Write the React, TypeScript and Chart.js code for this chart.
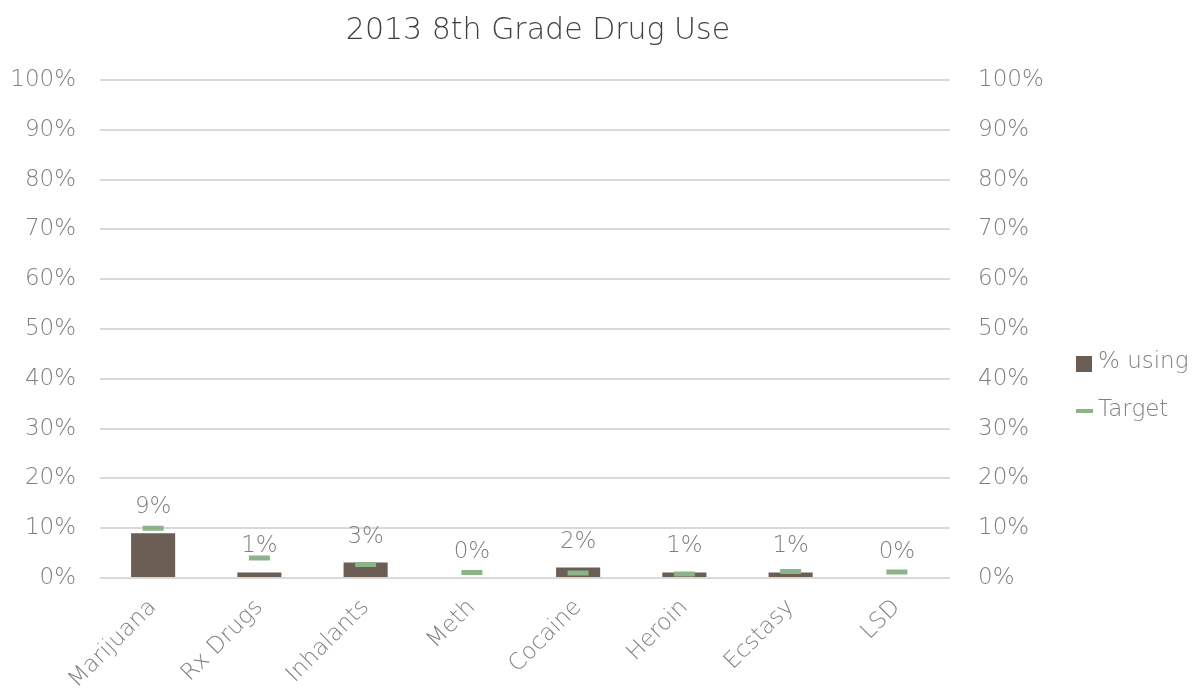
import React, { useEffect, useRef } from "react";
import { Chart, registerables } from "chart.js";

Chart.register(...registerables);

const chartTitle = "2013 8th Grade Drug Use";
const categories = ["Marijuana", "Rx Drugs", "Inhalants", "Meth", "Cocaine", "Heroin", "Ecstasy", "LSD"];
const usingValues = [9.0, 1.1, 3.1, 0, 2.1, 1.1, 1.1, 0];
const usingLabels = ["9%", "1%", "3%", "0%", "2%", "1%", "1%", "0%"];
const targetValues = [10, 4, 2.7, 1.1, 1.0, 0.8, 1.3, 1.2];
const seriesNames = ["% using", "Target"];
const yMin = 0;
const yMax = 100;
const yStep = 10;

const BAR_COLOR = "#6B5E54";
const TARGET_COLOR = "#8DB38B";
const TEXT_COLOR = "#808080";
const GRID_COLOR = "#D9D9D9";
const FONT = "'DejaVu Sans', sans-serif";

const overlayPlugin = {
  id: "overlay",
  afterDatasetsDraw(chart: any) {
    const ctx = chart.ctx;
    ctx.save();
    const meta = chart.getDatasetMeta(0);
    ctx.font = `200 23px ${FONT}`;
    ctx.fillStyle = TEXT_COLOR;
    ctx.textAlign = "center";
    ctx.textBaseline = "middle";
    meta.data.forEach((el: any, i: number) => {
      ctx.fillText(usingLabels[i], el.x, el.y - 26);
    });
    ctx.font = `200 30px ${FONT}`;
    ctx.fillStyle = "#404040";
    ctx.fillText(chartTitle, 538, 31);
    ctx.fillStyle = BAR_COLOR;
    ctx.fillRect(1076, 356, 16, 16);
    ctx.strokeStyle = TARGET_COLOR;
    ctx.lineWidth = 4;
    ctx.beginPath();
    ctx.moveTo(1076, 411);
    ctx.lineTo(1093, 411);
    ctx.stroke();
    ctx.font = `200 23px ${FONT}`;
    ctx.fillStyle = TEXT_COLOR;
    ctx.textAlign = "left";
    ctx.fillText(seriesNames[0], 1098, 362);
    ctx.fillText(seriesNames[1], 1098, 410);
    ctx.restore();
  },
};

export default function App() {
  const ref = useRef<HTMLCanvasElement | null>(null);
  useEffect(() => {
    if (!ref.current) return;
    const tickFont = { family: FONT, size: 23, weight: "200" as any };
    const chart = new Chart(ref.current, {
      type: "bar",
      data: {
        labels: categories,
        datasets: [
          {
            type: "bar",
            label: seriesNames[0],
            data: usingValues,
            backgroundColor: BAR_COLOR,
            barPercentage: 0.415,
            categoryPercentage: 1,
            yAxisID: "y",
            order: 2,
          } as any,
          {
            type: "line",
            label: seriesNames[1],
            data: targetValues,
            showLine: false,
            pointStyle: "line",
            pointRadius: 10.5,
            pointHoverRadius: 10.5,
            pointBorderWidth: 5,
            pointBorderColor: TARGET_COLOR,
            pointBackgroundColor: TARGET_COLOR,
            borderColor: TARGET_COLOR,
            yAxisID: "y",
            order: 1,
          } as any,
        ],
      },
      options: {
        animation: false,
        responsive: false,
        maintainAspectRatio: false,
        layout: { padding: { top: 80, left: 0, right: 0, bottom: 0 } },
        plugins: {
          legend: { display: false },
          title: { display: false },
          tooltip: { enabled: false },
        },
        scales: {
          x: {
            grid: { display: false },
            border: { display: false },
            ticks: {
              color: TEXT_COLOR,
              font: { family: FONT, size: 23, weight: "200" as any },
              minRotation: 45,
              maxRotation: 45,
              padding: 8,
              autoSkip: false,
            },
            afterFit: (s: any) => {
              s.height = 120;
            },
          },
          y: {
            position: "left",
            min: yMin,
            max: yMax,
            grid: { color: GRID_COLOR, lineWidth: 2, drawTicks: false },
            border: { display: false },
            ticks: {
              stepSize: yStep,
              color: TEXT_COLOR,
              font: tickFont,
              padding: 24,
              callback: (v: any) => `${v}%`,
            },
            afterFit: (s: any) => {
              s.width = 100;
            },
          },
          y2: {
            position: "right",
            min: yMin,
            max: yMax,
            grid: { display: false, drawTicks: false },
            border: { display: false },
            ticks: {
              stepSize: yStep,
              color: TEXT_COLOR,
              font: tickFont,
              padding: 28,
              callback: (v: any) => `${v}%`,
            },
            afterFit: (s: any) => {
              s.width = 246;
            },
          },
        },
      },
      plugins: [overlayPlugin],
    });
    return () => chart.destroy();
  }, []);
  return (
    <div style={{ position: "fixed", left: 0, top: 0, width: 1196, height: 698, background: "#fff" }}>
      <canvas ref={ref} width={1196} height={698} style={{ width: 1196, height: 698 }} />
    </div>
  );
}
